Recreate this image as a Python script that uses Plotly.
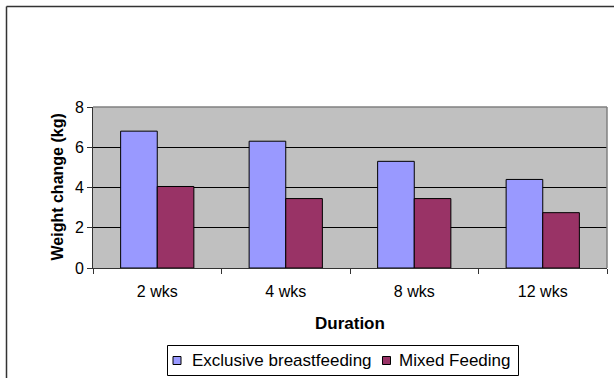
import plotly.graph_objects as go

categories = ["2 wks", "4 wks", "8 wks", "12 wks"]
exclusive_bf = [6.8, 6.3, 5.3, 4.4]
mixed_feeding = [4.05, 3.45, 3.45, 2.75]
series_names = ["Exclusive breastfeeding", "Mixed Feeding"]
series_colors = ["#9999FF", "#993366"]
y_ticks = [0, 2, 4, 6, 8]

W, H = 614, 378
L, R, T, B = 93, 7, 107, 110
pw, ph = W - L - R, H - T - B

def px_x(p):
    return (p - L) / pw

def px_y(p):
    return (H - B - p) / ph

FONT = "Liberation Sans, Arial, sans-serif"

fig = go.Figure()
for name, vals, col in zip(series_names, [exclusive_bf, mixed_feeding], series_colors):
    fig.add_trace(go.Bar(x=categories, y=vals, name=name,
                         marker=dict(color=col, line=dict(color="black", width=1))))

# manual legend (box, swatches, labels) to match the reference geometry
legend_box = (167.5, 345.5, 518.5, 375.5)
swatch_centers = [177, 386.5]
label_starts = [190.5, 397.5]
legend_cy = 360.5

shapes = [
    # plot area top and right border
    dict(type="line", xref="paper", yref="paper", x0=0, x1=1, y0=1, y1=1,
         line=dict(color="#808080", width=1.5)),
    dict(type="line", xref="paper", yref="paper", x0=1, x1=1, y0=0, y1=1,
         line=dict(color="#808080", width=1.5)),
    # outer chart frame (left and top visible)
    dict(type="line", xref="paper", yref="paper", x0=px_x(6.5), x1=px_x(6.5),
         y0=px_y(6.5), y1=px_y(400), line=dict(color="#333", width=1.5)),
    dict(type="line", xref="paper", yref="paper", x0=px_x(6.5), x1=px_x(640),
         y0=px_y(6.5), y1=px_y(6.5), line=dict(color="#333", width=1.5)),
    # legend box
    dict(type="rect", xref="paper", yref="paper",
         x0=px_x(legend_box[0]), x1=px_x(legend_box[2]),
         y0=px_y(legend_box[1]), y1=px_y(legend_box[3]),
         line=dict(color="black", width=1), fillcolor="white"),
]
annotations = [
    dict(text="<b>Weight change (kg)</b>", x=px_x(57), y=0.5,
         xref="paper", yref="paper", textangle=-90, showarrow=False,
         xanchor="center", yanchor="middle", font=dict(size=16)),
    dict(text="<b>Duration</b>", x=px_x(350), y=px_y(323),
         xref="paper", yref="paper", showarrow=False,
         xanchor="center", yanchor="middle", font=dict(size=17)),
]
for name, col, cx, lx in zip(series_names, series_colors, swatch_centers, label_starts):
    shapes.append(dict(type="rect", xref="paper", yref="paper",
                       x0=px_x(cx - 4), x1=px_x(cx + 4),
                       y0=px_y(legend_cy - 4), y1=px_y(legend_cy + 4),
                       line=dict(color="black", width=1), fillcolor=col))
    annotations.append(dict(text=name, x=px_x(lx), y=px_y(legend_cy),
                            xref="paper", yref="paper", showarrow=False,
                            xanchor="left", yanchor="middle",
                            font=dict(size=17), borderpad=0))

fig.update_layout(
    width=W, height=H,
    margin=dict(l=L, r=R, t=T, b=B, autoexpand=False),
    paper_bgcolor="white",
    plot_bgcolor="#C0C0C0",
    barmode="group",
    bargap=0.43,
    bargroupgap=0,
    font=dict(family=FONT, size=16, color="black"),
    showlegend=False,
    xaxis=dict(showgrid=False, ticks="outside", tickson="boundaries",
               ticklen=5, tickcolor="#333", showline=True, linecolor="#333",
               linewidth=1, tickfont=dict(size=16), ticklabelstandoff=9),
    yaxis=dict(range=[0, 8], tickvals=y_ticks, showgrid=True,
               gridcolor="black", gridwidth=1, ticks="outside", ticklen=5,
               tickcolor="#333", showline=True, linecolor="#333", linewidth=1,
               zeroline=False, tickfont=dict(size=16)),
    annotations=annotations,
    shapes=shapes,
)

fig.write_html("out.html", config={"displayModeBar": False},
               post_script="document.body.style.margin='0';document.body.style.overflow='hidden';")
